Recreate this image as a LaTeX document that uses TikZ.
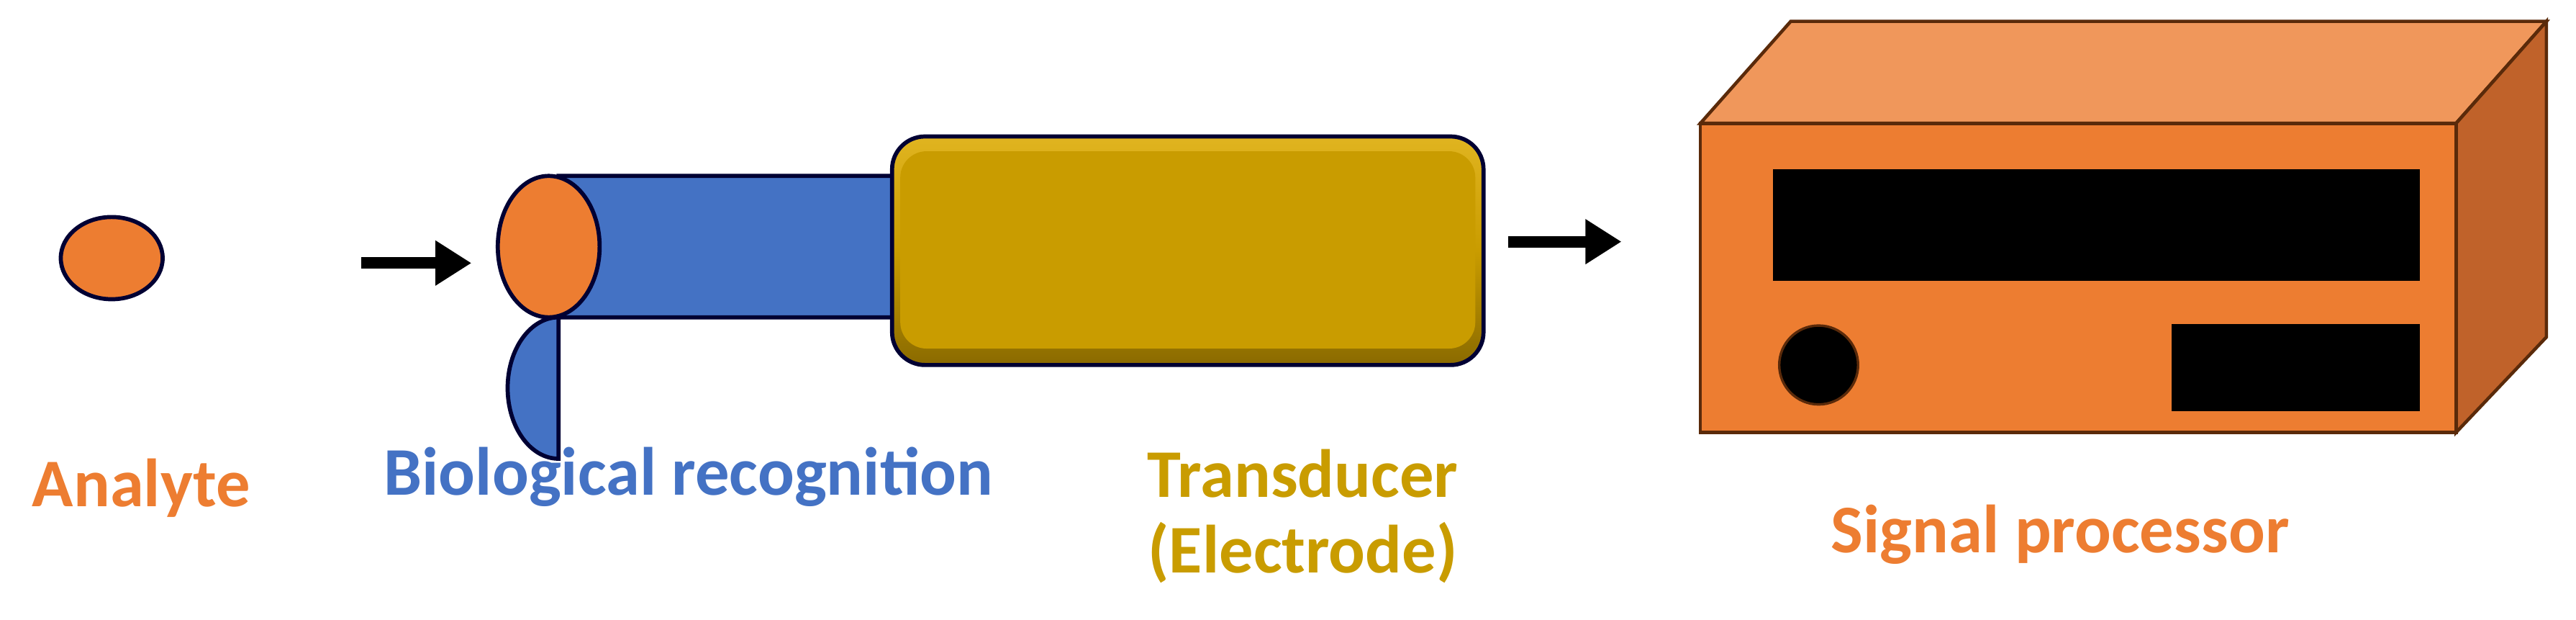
\documentclass[tikz,border=0pt]{standalone}
\usepackage{fontspec}
\setmainfont{Carlito}
\usetikzlibrary{arrows.meta,shapes.geometric}
\definecolor{anaorange}{HTML}{ED7D31}
\definecolor{bioblue}{HTML}{4472C4}
\definecolor{tgold}{HTML}{C99C00}
\definecolor{tgoldlight}{HTML}{E0B420}
\definecolor{tgolddark}{HTML}{8A6A00}
\definecolor{boxtop}{HTML}{F0975B}
\definecolor{boxside}{HTML}{C0622A}
\definecolor{edgedark}{HTML}{5A2A0A}

\begin{document}
\begin{tikzpicture}[x=1mm,y=-1mm,
  lbl/.style={font=\fontsize{118}{130}\selectfont\bfseries, align=center},
  flow/.style={-{Triangle[length=22mm,width=26mm]}, line width=7mm, black},
  outl/.style={draw=black!80!blue, line width=2.5mm}]
  \useasboundingbox (0,0) rectangle (1568,377);
  % analyte
  \node[outl, ellipse, fill=anaorange, minimum width=62mm, minimum height=50mm, inner sep=0] (analyte) at (68,157) {};
  % arrows
  \coordinate (a1s) at (220,160);
  \coordinate (a1e) at (287,160);
  \coordinate (a2s) at (918,147);
  \coordinate (a2e) at (987,147);
  \draw[flow] (a1s) -- (a1e);
  \draw[flow] (a2s) -- (a2e);
  % recognition cylinder
  \filldraw[outl, fill=bioblue] (340,107) -- (550,107) -- (550,193) -- (340,193) arc (270:90:31 and 43) -- cycle;
  \filldraw[outl, fill=anaorange] (334,150) ellipse (31 and 43);
  % transducer
  \shade[top color=tgoldlight, bottom color=tgolddark, middle color=tgold, rounded corners=20mm]
    (543,83) rectangle (903,222);
  \fill[tgold, rounded corners=16mm] (548,92) rectangle (898,212);
  \draw[outl, rounded corners=20mm] (543,83) rectangle (903,222);
  % signal processor
  \filldraw[draw=edgedark, line width=2mm, fill=boxtop] (1035,75) -- (1090,13) -- (1550,13) -- (1495,75) -- cycle;
  \filldraw[draw=edgedark, line width=2mm, fill=boxside] (1495,75) -- (1550,13) -- (1550,205) -- (1495,263) -- cycle;
  \filldraw[draw=edgedark, line width=2mm, fill=anaorange] (1035,75) rectangle (1495,263);
  \fill[black] (1079,103) rectangle (1473,171);
  \fill[black] (1322,197) rectangle (1473,250);
  \filldraw[draw=edgedark, line width=1.5mm, fill=black] (1107,222) circle (24);
  % labels
  \node[lbl, text=anaorange] (tana) at (86,297) {Analyte};
  \node[lbl, text=bioblue] (tbio) at (419,290) {Biological recognition};
  \node[lbl, text=tgold] (ttra) at (793,314) {Transducer\\(Electrode)};
  \node[lbl, text=anaorange] (tsig) at (1254,325) {Signal processor};
\end{tikzpicture}
\end{document}
